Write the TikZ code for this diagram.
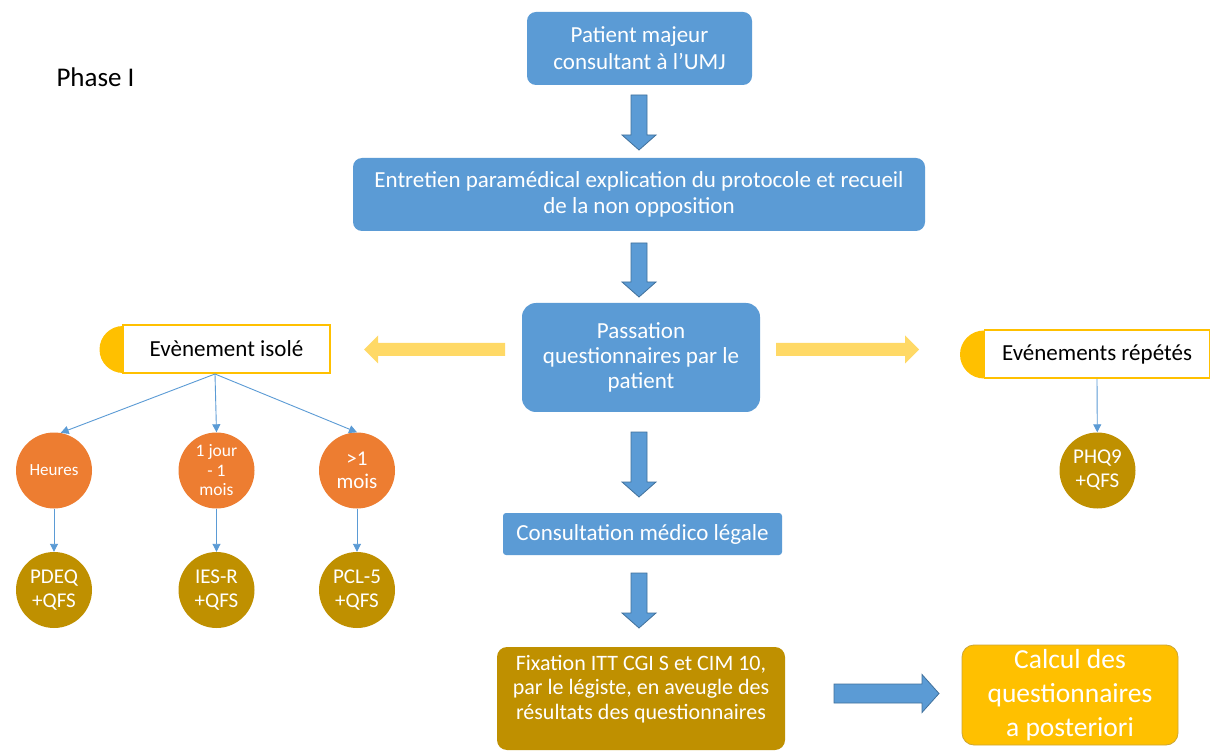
\documentclass[tikz,border=0pt]{standalone}
\usepackage{fontspec}
\setmainfont{Carlito}
\usetikzlibrary{arrows.meta}
\definecolor{bl}{HTML}{5B9BD5}
\definecolor{bdk}{HTML}{41719C}
\definecolor{olive}{HTML}{BF9000}
\definecolor{orng}{HTML}{ED7D31}
\definecolor{ylw}{HTML}{FFC000}
\definecolor{lylw}{HTML}{FFD966}
\newcommand\vblock[3]{% x, ytop, ytip
  \filldraw[bigarrow] (#1-8,#2) -- (#1+8,#2) -- (#1+8,#3-15) -- (#1+17,#3-15) -- (#1,#3) -- (#1-17,#3-15) -- (#1-8,#3-15) -- cycle;}
\newcommand\hblock[7]{% style, y, xstart, xtip, bodyhalf, headhalf, headlen (signed)
  \filldraw[#1] (#3,#2-#5) -- (#4-#7,#2-#5) -- (#4-#7,#2-#6) -- (#4,#2) -- (#4-#7,#2+#6) -- (#4-#7,#2+#5) -- (#3,#2+#5) -- cycle;}
\begin{document}
\begin{tikzpicture}[x=1pt,y=-1pt,
  bigarrow/.style={fill=bl,draw=bdk,line width=0.8pt,line join=miter},
  yarrow/.style={fill=lylw,draw=none},
  bbox/.style={fill=bl,rounded corners=9pt,inner sep=0pt,text=white,align=center,font=\fontsize{23}{26}\selectfont},
  tag/.style={draw=ylw,line width=1.8pt,fill=white,inner sep=0pt,font=\fontsize{23}{26}\selectfont},
  circ/.style={circle,minimum size=76pt,inner sep=0pt,text=white,align=center},
  thin/.style={draw=bl,line width=0.9pt,-{Triangle[length=8pt,width=8pt]}}
]
\useasboundingbox (0,0) rectangle (1211,751);
\fill[white] (0,0) rectangle (1211,751);

\node[anchor=west,font=\fontsize{27}{30}\selectfont] (phase) at (53,77) {Phase I};

\node[bbox,minimum width=225pt,minimum height=73pt,font=\fontsize{23}{27}\selectfont] (b1) at (639.5,48.5) {Patient majeur\\consultant à l’UMJ};
\node[bbox,minimum width=572pt,minimum height=73pt] (b2) at (639,194.5) {Entretien paramédical explication du protocole et recueil\\de la non opposition};
\node[bbox,minimum width=238pt,minimum height=109pt,rounded corners=14pt,font=\fontsize{23}{25}\selectfont] (b3) at (641,357.5) {Passation\\questionnaires par le\\patient};
\node[bbox,minimum width=279pt,minimum height=42pt,rounded corners=3pt] (b4) at (642.5,534) {Consultation médico légale};
\node[fill=olive,rounded corners=10pt,minimum width=288pt,minimum height=103pt,inner sep=0pt] (b5) at (641,698.5) {};
\node[text=white,align=center,font=\fontsize{22}{24.5}\selectfont] (b5t) at (641,689) {Fixation ITT CGI S et CIM 10,\\par le légiste, en aveugle des\\résultats des questionnaires};
\node[fill=ylw,draw=olive!80,line width=0.8pt,rounded corners=12pt,minimum width=216pt,minimum height=100pt,inner sep=0pt,text=white,align=center,font=\fontsize{27.5}{34}\selectfont] (b6) at (1070,695) {Calcul des\\questionnaires\\a posteriori};

% block arrows
\vblock{639}{95}{150}
\vblock{639}{243}{297}
\vblock{639}{432}{497}
\vblock{639}{573}{628}
\hblock{bigarrow}{693.5}{834}{939}{9.5}{19}{17}
\hblock{yarrow}{349.5}{505}{364}{6.5}{14}{-14}
\hblock{yarrow}{349.5}{776}{919}{6.5}{14}{14}

% tags
\fill[ylw] (123,349.5) circle[radius=23.5];
\node[tag,minimum width=207pt,minimum height=48pt] (t1) at (226.5,349) {Evènement isolé};
\fill[ylw] (984,354.5) circle[radius=24];
\node[tag,minimum width=225pt,minimum height=48pt] (t2) at (1097,354) {Evénements répétés};

% circles
\node[circ,fill=orng,font=\fontsize{17}{20}\selectfont] (h1) at (54,470.5) {Heures};
\node[circ,fill=orng,font=\fontsize{17.5}{19.5}\selectfont] (h2) at (216.5,470.5) {1 jour\\- 1\\mois};
\node[circ,fill=orng,font=\fontsize{21}{23}\selectfont] (h3) at (357,470.5) {>1\\mois};
\node[circ,fill=olive,font=\fontsize{21}{24}\selectfont] (q1) at (54,590) {PDEQ\\+QFS};
\node[circ,fill=olive,font=\fontsize{21}{24}\selectfont] (q2) at (216.5,590) {IES-R\\+QFS};
\node[circ,fill=olive,font=\fontsize{21}{24}\selectfont] (q3) at (357,590) {PCL-5\\+QFS};
\node[circ,fill=olive,font=\fontsize{21}{24}\selectfont] (q4) at (1097.5,470.5) {PHQ9\\+QFS};

\coordinate (t1s) at (215,374);
\draw[thin] (t1s) -- (h1.80);
\draw[thin] (t1s) -- (h2.north);
\draw[thin] (t1s) -- (h3.north);
\draw[thin] (h1) -- (q1);
\draw[thin] (h2) -- (q2);
\draw[thin] (h3) -- (q3);
\draw[thin] (t2.south) -- (q4);
\end{tikzpicture}
\end{document}
